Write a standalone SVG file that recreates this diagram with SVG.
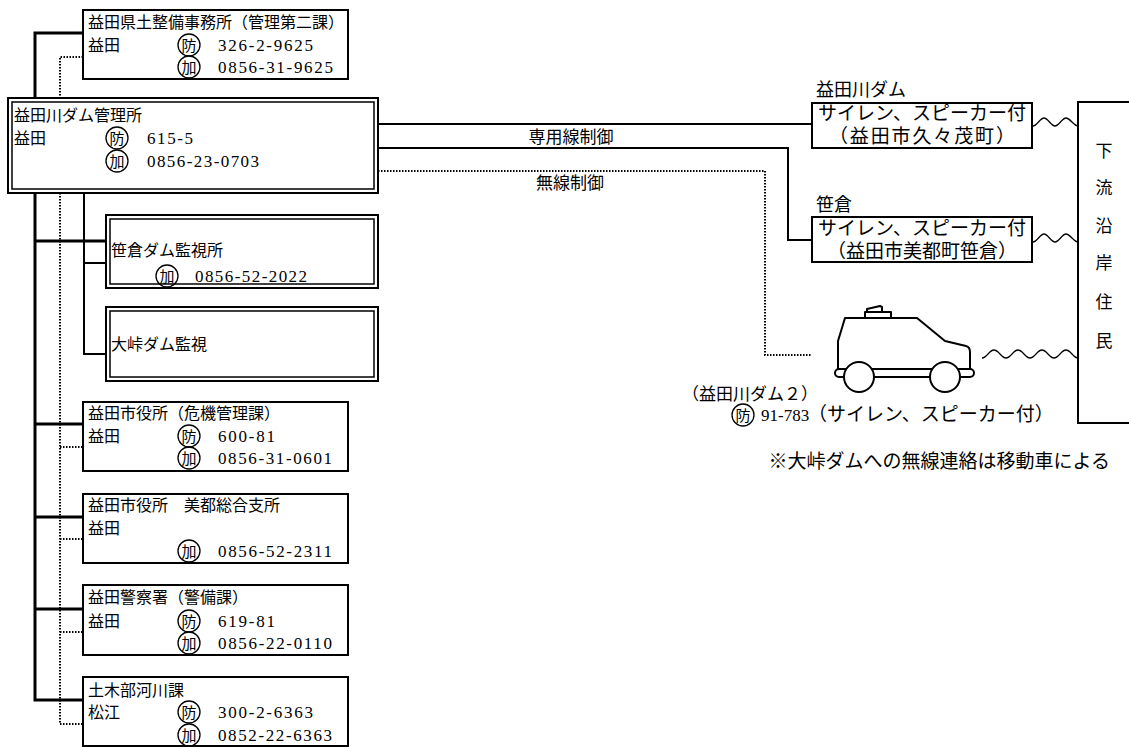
<svg xmlns="http://www.w3.org/2000/svg" width="1129" height="747" viewBox="0 0 1129 747">
<style>
.t{font-family:"Liberation Serif","Noto Sans CJK JP",serif;font-size:16px;fill:#000}
.r{font-size:17px}
.l{font-size:18px}
.b{font-size:19px}
.n{font-family:"Liberation Serif",serif;font-size:17px;fill:#000}
.c{font-family:"Noto Sans CJK JP",sans-serif;font-size:15px;fill:#000;text-anchor:middle}
.m{text-anchor:middle}
.e{text-anchor:end}
.box{fill:#fff;stroke:#000;stroke-width:2}
.dbo{fill:#fff;stroke:#000;stroke-width:2}
.dbi{fill:none;stroke:#000;stroke-width:1.5}
.ring{fill:none;stroke:#000;stroke-width:1.3}
.thick{fill:none;stroke:#000;stroke-width:3}
.thin{fill:none;stroke:#000;stroke-width:2}
.dot{fill:none;stroke:#000;stroke-width:2;stroke-dasharray:1.5 1.5}
.wave{fill:none;stroke:#000;stroke-width:1.3}
.car{fill:#fff;stroke:#000;stroke-width:2;stroke-linejoin:round}
</style>
<rect width="1129" height="747" fill="#fff"/>
<g id="connectors">
<path class="thick" d="M83,33 H35 V700 H83 M35,241 H106 M35,424 H83 M35,517 H83 M35,609 H83"/>
<path class="dot" d="M83,57 H60 V724 H83 M60,447 H83 M60,539 H83 M60,632 H83"/>
<path class="thin" d="M84,193 V354 H106 M84,263 H106"/>
<path class="thin" d="M378,124 H812"/>
<path class="thin" d="M378,148 H788 V240 H812"/>
<path class="dot" d="M378,171 H765 V355 H812"/>
<path class="wave" d="M1033,126 C1037,126 1040,118 1044,118 C1048,118 1051,126 1055,126 C1059,126 1062,118 1066,118 C1070,118 1074,126 1078,126"/>
<path class="wave" d="M1033,242 C1037,242 1040,234 1044,234 C1048,234 1051,242 1055,242 C1059,242 1062,234 1066,234 C1070,234 1074,242 1078,242"/>
<path class="wave" d="M982,358 C987,358 989,350 994,350 C999,350 1001,358 1006,358 C1011,358 1013,350 1018,350 C1023,350 1025,358 1030,358 C1035,358 1037,350 1042,350 C1047,350 1049,358 1054,358 C1059,358 1061,350 1066,350 C1071,350 1073,358 1078,358"/>
<text class="t r m" x="571" y="143">専用線制御</text>
<text class="t r m" x="570" y="189">無線制御</text>
</g>
<g id="n-kendoseibi">
<rect class="box" x="83" y="10" width="265" height="69"/>
<text class="t" x="88" y="27.5">益田県土整備事務所（管理第二課）</text>
<text class="t" x="88" y="50.5">益田</text>
<circle class="ring" cx="189" cy="45" r="11"/><text class="c" x="189" y="50.5">防</text>
<text class="n" x="218" y="51" textLength="95" lengthAdjust="spacing">326-2-9625</text>
<circle class="ring" cx="189" cy="67" r="11"/><text class="c" x="189" y="72.5">加</text>
<text class="n" x="218" y="73" textLength="115" lengthAdjust="spacing">0856-31-9625</text>
</g>
<g id="n-kanrisho">
<rect class="dbo" x="8" y="98" width="370" height="95"/>
<rect class="dbi" x="12" y="102" width="362" height="87"/>
<text class="t" x="14" y="120.5">益田川ダム管理所</text>
<text class="t" x="14" y="143.5">益田</text>
<circle class="ring" cx="117" cy="138" r="11"/><text class="c" x="117" y="143.5">防</text>
<text class="n" x="147" y="144" textLength="46" lengthAdjust="spacing">615-5</text>
<circle class="ring" cx="117" cy="161" r="11"/><text class="c" x="117" y="166.5">加</text>
<text class="n" x="147" y="167" textLength="112" lengthAdjust="spacing">0856-23-0703</text>
</g>
<g id="n-sasakura">
<rect class="dbo" x="106" y="215" width="272" height="73"/>
<rect class="dbi" x="110" y="219" width="264" height="65"/>
<text class="t" x="111" y="255.5">笹倉ダム監視所</text>
<circle class="ring" cx="167" cy="276" r="11"/><text class="c" x="167" y="281.5">加</text>
<text class="n" x="195" y="282" textLength="112" lengthAdjust="spacing">0856-52-2022</text>
</g>
<g id="n-obao">
<rect class="dbo" x="106" y="307" width="272" height="74"/>
<rect class="dbi" x="110" y="311" width="264" height="66"/>
<text class="t" x="111" y="349.5">大峠ダム監視</text>
</g>
<g id="n-shiyakusho">
<rect class="box" x="83" y="402" width="265" height="69"/>
<text class="t" x="88" y="418.5">益田市役所（危機管理課）</text>
<text class="t" x="88" y="441.5">益田</text>
<circle class="ring" cx="189" cy="436" r="11"/><text class="c" x="189" y="441.5">防</text>
<text class="n" x="218" y="442" textLength="57" lengthAdjust="spacing">600-81</text>
<circle class="ring" cx="189" cy="458" r="11"/><text class="c" x="189" y="463.5">加</text>
<text class="n" x="218" y="464" textLength="114" lengthAdjust="spacing">0856-31-0601</text>
</g>
<g id="n-misato">
<rect class="box" x="83" y="494" width="265" height="69"/>
<text class="t" x="88" y="510.5">益田市役所　美都総合支所</text>
<text class="t" x="88" y="533.5">益田</text>
<circle class="ring" cx="189" cy="551" r="11"/><text class="c" x="189" y="556.5">加</text>
<text class="n" x="218" y="557" textLength="114" lengthAdjust="spacing">0856-52-2311</text>
</g>
<g id="n-keisatsu">
<rect class="box" x="83" y="585" width="265" height="70"/>
<text class="t" x="88" y="602.5">益田警察署（警備課）</text>
<text class="t" x="88" y="626.5">益田</text>
<circle class="ring" cx="189" cy="621" r="11"/><text class="c" x="189" y="626.5">防</text>
<text class="n" x="218" y="627" textLength="57" lengthAdjust="spacing">619-81</text>
<circle class="ring" cx="189" cy="643" r="11"/><text class="c" x="189" y="648.5">加</text>
<text class="n" x="218" y="649" textLength="114" lengthAdjust="spacing">0856-22-0110</text>
</g>
<g id="n-kasen">
<rect class="box" x="83" y="677" width="265" height="69"/>
<text class="t" x="88" y="695.5">土木部河川課</text>
<text class="t" x="88" y="717.5">松江</text>
<circle class="ring" cx="189" cy="712" r="11"/><text class="c" x="189" y="717.5">防</text>
<text class="n" x="218" y="718" textLength="95" lengthAdjust="spacing">300-2-6363</text>
<circle class="ring" cx="189" cy="735" r="11"/><text class="c" x="189" y="740.5">加</text>
<text class="n" x="218" y="741" textLength="114" lengthAdjust="spacing">0852-22-6363</text>
</g>
<g id="n-siren1">
<text class="t l" x="816" y="96">益田川ダム</text>
<rect class="box" x="812" y="103" width="220" height="45"/>
<text class="t b m" x="922" y="120">サイレン、スピーカー付</text>
<text class="t b m" x="922" y="143" textLength="186" lengthAdjust="spacing">（益田市久々茂町）</text>
</g>
<g id="n-siren2">
<text class="t l" x="816" y="211">笹倉</text>
<rect class="box" x="812" y="217" width="220" height="45"/>
<text class="t b m" x="922" y="235">サイレン、スピーカー付</text>
<text class="t b m" x="922" y="258">（益田市美都町笹倉）</text>
</g>
<g id="n-car">
<path class="car" d="M838,369 V341 L845,318 H917 L945,341 L966,346 Q970,347 970,352 V369"/>
<rect class="car" x="865" y="312" width="26" height="6"/>
<path class="car" d="M867,312 V309 L880,306 L882,307 V312 Z"/>
<rect class="car" x="835" y="369" width="139" height="8" rx="4"/>
<circle class="car" cx="859" cy="377" r="15"/>
<circle class="car" cx="945" cy="377" r="15"/>
<text class="t r" x="682" y="400">（益田川ダム２）</text>
<circle class="ring" cx="743" cy="415" r="11"/><text class="c" x="743" y="420.5">防</text>
<text class="n" x="761" y="421">91-783</text>
<text class="t b" x="808" y="421">（サイレン、スピーカー付）</text>
</g>
<g id="n-residents">
<path class="thin" d="M1140,102 H1078 V423 H1140"/>
<text class="t r m" x="1104" y="157">下</text>
<text class="t r m" x="1104" y="194">流</text>
<text class="t r m" x="1104" y="232">沿</text>
<text class="t r m" x="1104" y="269">岸</text>
<text class="t r m" x="1104" y="308">住</text>
<text class="t r m" x="1104" y="347">民</text>
</g>
<g id="note">
<text class="t b e" x="1110" y="468">※大峠ダムへの無線連絡は移動車による</text>
</g>
</svg>
